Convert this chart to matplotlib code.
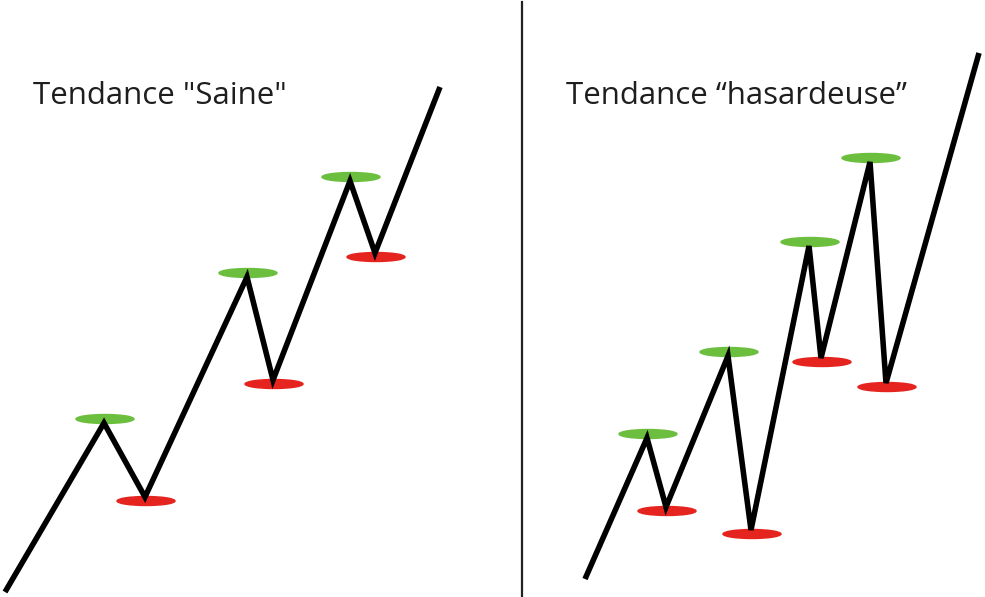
import matplotlib
matplotlib.use("Agg")
import matplotlib.pyplot as plt
from matplotlib.patches import Ellipse

W, H = 985, 597

# zigzag vertices (pixel coordinates, y down)
saine_x = [5, 104, 145, 247, 273, 350, 375, 440]
saine_y = [592, 423, 497, 277, 380, 181, 253, 87]
saine_peaks = [1, 3, 5]
saine_troughs = [2, 4, 6]

hasard_x = [585, 647, 666, 728, 751, 809, 821, 870, 886, 979]
hasard_y = [579, 438, 507, 356, 530, 246, 358, 162, 383, 53]
hasard_peaks = [1, 3, 5, 7]
hasard_troughs = [2, 4, 6, 8]

titles = ['Tendance "Saine"', 'Tendance \u201chasardeuse\u201d']
title_x = [33, 566]

GREEN = "#6cbf3e"
RED = "#e5231f"

fig = plt.figure(figsize=(W / 100, H / 100), dpi=100)
ax = fig.add_axes([0, 0, 1, 1])
ax.set_xlim(0, W)
ax.set_ylim(H, 0)
ax.axis("off")


def draw_trend(xs, ys, peaks, troughs):
    for i in peaks:
        ax.add_patch(Ellipse((xs[i] + 1, ys[i] - 4), 58, 9, color=GREEN, zorder=1))
    for i in troughs:
        ax.add_patch(Ellipse((xs[i] + 1, ys[i] + 4), 58, 9, color=RED, zorder=1))
    ax.plot(xs, ys, color="black", lw=4.0, solid_joinstyle="miter",
            solid_capstyle="butt", zorder=2)


draw_trend(saine_x, saine_y, saine_peaks, saine_troughs)
draw_trend(hasard_x, hasard_y, hasard_peaks, hasard_troughs)

# separator
ax.plot([521.5, 521.5], [2, H], color="#222222", lw=1.6)

for tx, t in zip(title_x, titles):
    ax.text(tx, 104, t, fontsize=22.5, family="Open Sans", color="#1e1e1e",
            ha="left", va="baseline")

fig.savefig("out.png", dpi=100)
